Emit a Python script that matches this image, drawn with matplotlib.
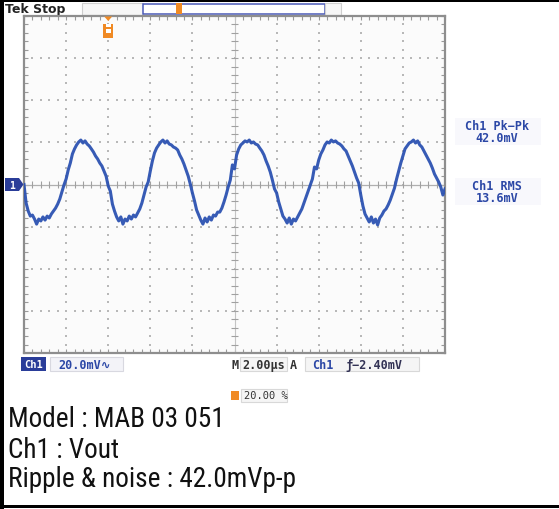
import numpy as np
import matplotlib
matplotlib.use("Agg")
import matplotlib.pyplot as plt
from matplotlib.patches import Rectangle, Polygon
from matplotlib import font_manager

# ---------------- data ----------------
volts_per_div_mV = 20.0
time_per_div_us = 2.0
n_div_x, n_div_y = 10, 8
trigger_pos_pct = 20.0

# ripple samples every 0.1 us, 0 .. 20 us
ripple_mV = [
    0, -8.8, -12.6, -15, -14.5, -16.4, -18.8, -16.4, -17.3, -15.4,
    -16.9, -15, -15.9, -14, -12.6, -11.2, -9.3, -6.9, -3.6, -0.2,
    2.6, 6.9, 10.2, 14.5, 16.9, 18.8, 20.2, 21.1, 19.7, 20.7,
    19.2, 18.3, 16.9, 15.4, 13.5, 12.1, 10.2, 8.8, 6.4, 4.0,
    -0.7, -3.1, -9.3, -12.6, -15.4, -17.3, -15.4, -18.8, -16.4, -17.3,
    -15, -16.4, -14.5, -15.4, -13.5, -11.6, -8.8, -5, -1.2, 1.2,
    6.4, 11.2, 15, 17.3, 18.8, 20.2, 21.1, 19.7, 20.7, 19.2,
    18.8, 17.8, 17.3, 16.4, 14, 12.1, 9.7, 6.9, 4.0, 0.2,
    -4, -7.8, -12.1, -14.5, -16.9, -18.8, -15.9, -17.8, -15.4, -16.9,
    -14.5, -15, -13.1, -13.1, -11.2, -8.3, -5, -1.2, 2.1, 9.3,
    7.4, 14, 16.9, 18.8, 19.7, 20.7, 20.2, 21.1, 19.7, 20.2,
    19.2, 18.8, 17.3, 15.9, 14, 11.2, 8.8, 5.9, 2.1, -2.1,
    -4, -8.3, -11.6, -15, -16.4, -18.3, -15.9, -18.8, -16.4, -17.3,
    -15.4, -13.5, -11.6, -8.8, -5.9, -3.1, -0.2, 2.6, 8.3, 7.4,
    11.6, 14.5, 16.4, 18.8, 20.2, 19.7, 21.1, 20.2, 20.7, 19.7,
    19.2, 18.3, 16.9, 15.9, 13.5, 11.2, 8.8, 5.9, 3.1, 0.7,
    -5, -10.2, -14, -15.9, -17.8, -15.4, -18.3, -16.4, -19.2, -15.9,
    -14.5, -12.6, -11.6, -9.7, -7.4, -4.5, -1.7, 2.6, 6.4, 10.2,
    13.5, 16.9, 18.3, 19.7, 20.2, 21.1, 19.7, 20.7, 18.8, 17.8,
    15.9, 14, 12.1, 10.2, 7.8, 5, 3.1, 1.2, -1.2, -5,
    -2.1,
]
time_us = np.linspace(0, n_div_x * time_per_div_us, len(ripple_mV))

header_label = "Tek Stop"
ch_label = "Ch1"
scale_label = "20.0mV"
timebase_label = "2.00\u00b5s"
trigger_label = "\u0192\u22122.40mV"
trig_pct_label = "20.00 %"
meas_labels = [("Ch1 Pk\u2212Pk", "42.0mV"), ("Ch1 RMS", "13.6mV")]
caption_lines = ["Model : MAB 03 051", "Ch1 : Vout", "Ripple & noise : 42.0mVp-p"]

# ---------------- caption font: prefer a narrow sans ----------------
def pick_caption_font():
    fl = font_manager.fontManager.ttflist
    prefs = ["Liberation Sans Narrow", "Roboto Condensed", "Open Sans Condensed",
             "Noto Sans Condensed", "DejaVu Sans Condensed"]
    for p in prefs:
        for f in fl:
            if f.name == p and f.style == "normal" and f.weight in (400, "normal", "regular"):
                return font_manager.FontProperties(fname=f.fname)
    for f in fl:
        if f.stretch in ("condensed", "semi-condensed", "extra-condensed") and \
                f.style == "normal" and f.weight in (300, 400, "normal", "regular", "light"):
            return font_manager.FontProperties(fname=f.fname)
    return font_manager.FontProperties(family="Roboto")

cap_fp = pick_caption_font()

# ---------------- figure ----------------
W, H = 559, 510
fig = plt.figure(figsize=(W / 100, H / 100), dpi=100)
fig.patch.set_facecolor("white")

bg = fig.add_axes([0, 0, 1, 1])
bg.set_xlim(0, W)
bg.set_ylim(H, 0)
bg.axis("off")

BLUE = "#2b47a6"
TRACE = "#2c52b2"
ORANGE = "#f08a24"
MONO = ["DejaVu Sans Mono", "DejaVu Sans"]

# frame lines
bg.add_patch(Rectangle((0, 0), W, 3, color="black", lw=0))
bg.add_patch(Rectangle((0, 0), 3.5, H, color="black", lw=0))
bg.add_patch(Rectangle((0, 506), W, 3, color="black", lw=0))

# header
bg.text(5, 9.5, header_label, fontsize=9, fontweight="bold", color="#222222",
        va="center", ha="left", family="DejaVu Sans")
bg.add_patch(Rectangle((82, 3.5), 61, 12.5, fc="#f6f6f6", ec="#cfcfcf", lw=0.8))
bg.add_patch(Rectangle((143, 4.5), 182, 10, fc="white", ec="#4a5ab8", lw=1.1))
bg.add_patch(Rectangle((325, 3.5), 16, 12.5, fc="#f6f6f6", ec="#cfcfcf", lw=0.8))
bg.add_patch(Rectangle((176, 4), 6, 11, fc=ORANGE, ec="none"))

# graticule axes
gx0, gy0, gx1, gy1 = 24, 17, 445, 354
ax = fig.add_axes([gx0 / W, 1 - gy1 / H, (gx1 - gx0) / W, (gy1 - gy0) / H])
xmax = n_div_x * time_per_div_us
ymax = n_div_y / 2 * volts_per_div_mV
ax.set_xlim(0, xmax)
ax.set_ylim(-ymax, ymax)
ax.set_facecolor("#fbfbfb")
for s in ax.spines.values():
    s.set_color("#8e8e8e")
    s.set_linewidth(1.6)
ax.set_xticks(np.arange(0, xmax + 1e-9, time_per_div_us / 5))
ax.set_yticks(np.arange(-ymax, ymax + 1e-9, volts_per_div_mV / 5))
ax.tick_params(direction="in", length=3, width=0.8, color="#9a9a9a",
               top=True, right=True, labelbottom=False, labelleft=False)

# dotted division grid
dot_c = "#b8b8b8"
for i in range(1, n_div_x):
    xv = i * time_per_div_us
    if i == n_div_x // 2:
        continue
    yy = np.arange(-ymax, ymax + 1e-9, volts_per_div_mV / 5)
    ax.scatter(np.full_like(yy, xv), yy, s=1.0, marker="s", color=dot_c, lw=0)
for j in range(1, n_div_y):
    yv = -ymax + j * volts_per_div_mV
    if j == n_div_y // 2:
        continue
    xx = np.arange(0, xmax + 1e-9, time_per_div_us / 5)
    ax.scatter(xx, np.full_like(xx, yv), s=1.0, marker="s", color=dot_c, lw=0)

# centre crosshair with ticks
ax.axhline(0, color="#b0b0b0", lw=0.9)
ax.axvline(xmax / 2, color="#c4c4c4", lw=0.8)
tx = np.arange(time_per_div_us / 5, xmax, time_per_div_us / 5)
ax.vlines(tx, -1.5, 1.5, color="#a0a0a0", lw=0.8)
ty = np.arange(-ymax + volts_per_div_mV / 5, ymax, volts_per_div_mV / 5)
ax.hlines(ty, xmax / 2 - 0.15, xmax / 2 + 0.15, color="#a0a0a0", lw=0.8)

# trace
ax.plot(time_us, ripple_mV, color=TRACE, lw=2.2, solid_joinstyle="round",
        alpha=0.95, zorder=5)

# overlay for markers drawn above the graticule
ov = fig.add_axes([0, 0, 1, 1])
ov.set_xlim(0, W)
ov.set_ylim(H, 0)
ov.axis("off")
ov.patch.set_alpha(0)

# trigger position marker (orange) at top
tpx = gx0 + (gx1 - gx0) * trigger_pos_pct / 100
ov.add_patch(Polygon([(tpx - 4, 17.5), (tpx + 4, 17.5), (tpx, 22)], color=ORANGE, lw=0))
ov.add_patch(Rectangle((tpx - 5, 25), 10, 14, fc=ORANGE, ec="none"))
ov.add_patch(Rectangle((tpx - 2.5, 25), 5, 9, fc="white", ec="none"))
ov.add_patch(Rectangle((tpx - 4, 28), 8, 2, fc=ORANGE, ec="none"))

# channel ground marker on left
cy = (gy0 + gy1) / 2
ov.add_patch(Polygon([(5, cy - 6.5), (19, cy - 6.5), (23.5, cy), (19, cy + 6.5), (5, cy + 6.5)],
                     color="#2a3d99", lw=0))
ov.text(12, cy + 0.5, "1", color="white", fontsize=7, fontweight="bold",
        ha="center", va="center", family=MONO)

# status bar
fs = 8.5
ov.add_patch(Rectangle((21, 358), 25, 14, fc="#2a3d99", ec="none"))
ov.text(33.5, 365.5, ch_label, color="white", fontsize=7.5, fontweight="bold",
        ha="center", va="center", family=MONO)
ov.add_patch(Rectangle((50, 358), 73, 14, fc="#f3f3f8", ec="#d8d8e0", lw=0.8))
ov.text(58, 365.5, scale_label + "\u223f", color=BLUE, fontsize=fs, fontweight="bold",
        ha="left", va="center", family=MONO)
ov.text(235, 365.5, "M", color="#333333", fontsize=fs, fontweight="bold",
        ha="center", va="center", family=MONO)
ov.add_patch(Rectangle((240, 358), 47, 14, fc="#f5f5f5", ec="#d8d8d8", lw=0.8))
ov.text(242, 365.5, timebase_label, color="#333333", fontsize=fs, fontweight="bold",
        ha="left", va="center", family=MONO)
ov.text(293, 365.5, "A", color="#333333", fontsize=fs, fontweight="bold",
        ha="center", va="center", family=MONO)
ov.add_patch(Rectangle((305, 358), 114, 14, fc="#f5f5f5", ec="#d8d8d8", lw=0.8))
ov.text(312, 365.5, ch_label, color=BLUE, fontsize=fs, fontweight="bold",
        ha="left", va="center", family=MONO)
ov.text(345, 365.5, trigger_label, color="#333355", fontsize=fs, fontweight="bold",
        ha="left", va="center", family=MONO)

# trigger percent
ov.add_patch(Rectangle((231, 392), 8, 9, fc=ORANGE, ec="none"))
ov.add_patch(Rectangle((241, 390), 46, 13, fc="#f5f5f5", ec="#d8d8d8", lw=0.8))
ov.text(244, 396.5, trig_pct_label, color="#333333", fontsize=7.5,
        ha="left", va="center", family=MONO)

# measurements on the right (one two-line text per readout)
for (lab, val), yc in zip(meas_labels, [127, 187]):
    ov.add_patch(Rectangle((455, yc - 8), 86, 27, fc="#f8f8fc", ec="none"))
    ov.text(497, yc + 5.5, lab + "\n" + val, color=BLUE, fontsize=fs, fontweight="bold",
            ha="center", va="center", multialignment="center", linespacing=0.95,
            family=MONO)

# caption (fit first line to its width in the reference, ~217 px)
cap_texts = []
for line, yb in zip(caption_lines, [427, 458, 487]):
    cap_texts.append(ov.text(8, yb, line, fontproperties=cap_fp, fontsize=20.5,
                             color="#111111", ha="left", va="baseline"))
renderer = fig.canvas.get_renderer()
w0 = cap_texts[0].get_window_extent(renderer).width
size = min(22.0, 20.5 * 217.0 / w0)
for t in cap_texts:
    t.set_fontsize(size)

fig.savefig("out.png", dpi=100, facecolor="white")
